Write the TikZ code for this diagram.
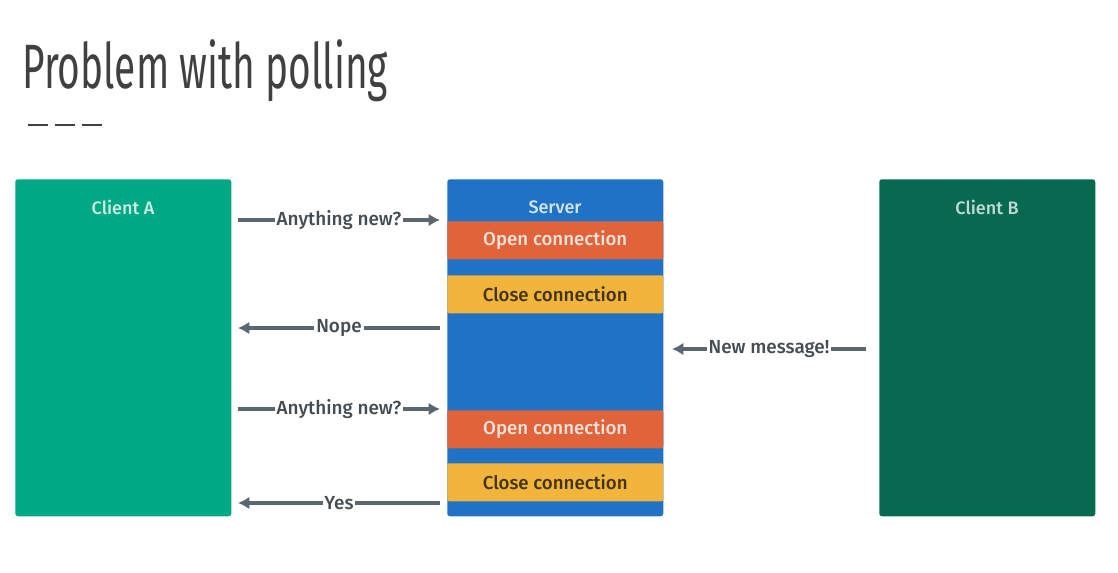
\documentclass[tikz,border=0pt]{standalone}
\usepackage{fontspec}
\usetikzlibrary{arrows.meta}
\setmainfont{Fira Sans Medium}
\newfontfamily\titlefont[FakeStretch=0.62]{Fira Sans}
\definecolor{clientA}{HTML}{00A884}
\definecolor{clientB}{HTML}{076A50}
\definecolor{server}{HTML}{1F72C4}
\definecolor{openc}{HTML}{E0633A}
\definecolor{closec}{HTML}{F0B53A}
\definecolor{flowgray}{HTML}{5A6670}
\definecolor{titlegray}{HTML}{404040}
\begin{document}
\begin{tikzpicture}[x=0.75pt,y=-0.75pt,
  panel/.style={anchor=north west,minimum width=162pt,minimum height=252.75pt,
    rounded corners=2pt,inner sep=0pt},
  band/.style={anchor=north west,minimum width=162pt,minimum height=28.5pt,
    rounded corners=1.5pt,inner sep=0pt,font=\fontsize{14}{15}\selectfont},
  head/.style={font=\fontsize{13.5}{14}\selectfont},
  flow/.style={draw=flowgray,line width=2.4pt,-{Latex[length=8.5pt,width=9.5pt]}},
  lbl/.style={fill=white,inner sep=1.4pt,text=flowgray!75!black,
    font=\fontsize{14.2}{15}\selectfont}]
\useasboundingbox (0,0) rectangle (1118,572);

% title and its underline dashes
\node[anchor=base west,inner sep=0pt,text=titlegray,
  font=\titlefont\fontsize{47}{50}\selectfont] (title) at (22,88) {Problem with polling};
\foreach \i in {0,1,2}
  \draw[titlegray,line width=1.5pt] (28+\i*27,125) -- (48+\i*27,125);

% the three columns
\node[panel,fill=clientA] (ca) at (15,179) {};
\node[panel,fill=server] (srv) at (447,179) {};
\node[panel,fill=clientB] (cb) at (879,179) {};
\node[head,text=white!80!clientA] (caT) at (123,207) {Client A};
\node[head,text=white!80!server] (srvT) at (555,207) {Server};
\node[head,text=white!75!clientB] (cbT) at (987,207) {Client B};

% connection bands inside the server
\node[band,fill=openc,text=white!82!openc] (o1) at (447,221) {Open connection};
\node[band,fill=closec,text=black!72!closec] (c1) at (447,275) {Close connection};
\node[band,fill=openc,text=white!82!openc] (o2) at (447,410) {Open connection};
\node[band,fill=closec,text=black!72!closec] (c2) at (447,463) {Close connection};

% requests and replies
\coordinate (ra1) at (238,220); \coordinate (rs1) at (440,220);
\coordinate (ra2) at (238,328); \coordinate (rs2) at (440,328);
\coordinate (ra3) at (238,409); \coordinate (rs3) at (440,409);
\coordinate (ra4) at (238,503); \coordinate (rs4) at (440,503);
\coordinate (sb) at (672,349);  \coordinate (bb) at (866,349);
\draw[flow] (ra1) -- node[lbl] {Anything new?} (rs1);
\draw[flow] (rs2) -- node[lbl] {Nope} (ra2);
\draw[flow] (ra3) -- node[lbl] {Anything new?} (rs3);
\draw[flow] (rs4) -- node[lbl] {Yes} (ra4);
\draw[flow] (bb) -- node[lbl] {New message!} (sb);
\end{tikzpicture}
\end{document}
